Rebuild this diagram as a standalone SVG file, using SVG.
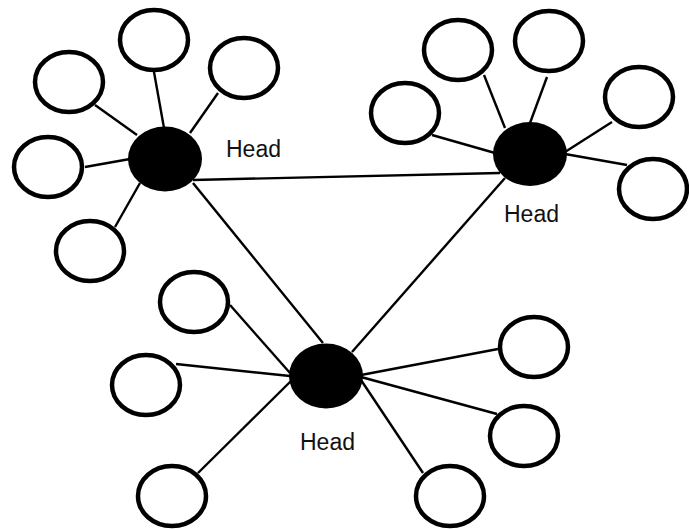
<svg xmlns="http://www.w3.org/2000/svg" width="689" height="529" viewBox="0 0 689 529">
<style>
.sat{fill:#fff;stroke:#000;stroke-width:4.5}
.head{fill:#000}
.ln{stroke:#000;stroke-width:2.4;fill:none}
.lbl{font-family:"Liberation Sans",Arial,sans-serif;font-size:23px;fill:#111}
</style>
<rect width="689" height="529" fill="#fff"/>
<g id="connectors">
<line class="ln" x1="193" y1="180" x2="500" y2="173"/>
<line class="ln" x1="505" y1="178" x2="352" y2="352"/>
<line class="ln" x1="193" y1="183" x2="323" y2="343"/>
<line class="ln" x1="154" y1="72" x2="164" y2="128"/>
<line class="ln" x1="95" y1="105" x2="137" y2="135"/>
<line class="ln" x1="218" y1="93" x2="190" y2="133"/>
<line class="ln" x1="85" y1="167" x2="130" y2="159"/>
<line class="ln" x1="115" y1="227" x2="140" y2="183"/>
<line class="ln" x1="484" y1="75" x2="505" y2="128"/>
<line class="ln" x1="547" y1="77" x2="530" y2="123"/>
<line class="ln" x1="432" y1="135" x2="495" y2="153"/>
<line class="ln" x1="612" y1="122" x2="565" y2="152"/>
<line class="ln" x1="627" y1="165" x2="565" y2="154"/>
<line class="ln" x1="230" y1="305" x2="290" y2="373"/>
<line class="ln" x1="176" y1="364" x2="290" y2="376"/>
<line class="ln" x1="198" y1="473" x2="292" y2="380"/>
<line class="ln" x1="498" y1="349" x2="361" y2="375"/>
<line class="ln" x1="497" y1="414" x2="361" y2="377"/>
<line class="ln" x1="423" y1="473" x2="361" y2="380"/>
</g>
<g id="head1"><ellipse class="head" cx="165" cy="159" rx="37" ry="32.5"/><text class="lbl" x="226" y="157">Head</text></g>
<g id="head2"><ellipse class="head" cx="530" cy="154" rx="37" ry="32"/><text class="lbl" x="504" y="222">Head</text></g>
<g id="head3"><ellipse class="head" cx="326" cy="376" rx="37" ry="32.5"/><text class="lbl" x="300" y="450">Head</text></g>
<g id="n1a"><ellipse class="sat" cx="154" cy="40" rx="34" ry="30"/></g>
<g id="n1b"><ellipse class="sat" cx="69" cy="82" rx="34" ry="30"/></g>
<g id="n1c"><ellipse class="sat" cx="244" cy="68" rx="34" ry="30"/></g>
<g id="n1d"><ellipse class="sat" cx="48" cy="167" rx="34" ry="30"/></g>
<g id="n1e"><ellipse class="sat" cx="90" cy="251" rx="34" ry="30"/></g>
<g id="n2a"><ellipse class="sat" cx="458" cy="50" rx="34" ry="30"/></g>
<g id="n2b"><ellipse class="sat" cx="549" cy="41" rx="34" ry="30"/></g>
<g id="n2c"><ellipse class="sat" cx="405" cy="113" rx="34" ry="30"/></g>
<g id="n2d"><ellipse class="sat" cx="639" cy="97" rx="34" ry="30"/></g>
<g id="n2e"><ellipse class="sat" cx="653" cy="189" rx="34" ry="30"/></g>
<g id="n3a"><ellipse class="sat" cx="194" cy="302" rx="34" ry="30"/></g>
<g id="n3b"><ellipse class="sat" cx="146" cy="385" rx="34" ry="30"/></g>
<g id="n3c"><ellipse class="sat" cx="172" cy="496" rx="34" ry="30"/></g>
<g id="n3d"><ellipse class="sat" cx="534" cy="347" rx="34" ry="30"/></g>
<g id="n3e"><ellipse class="sat" cx="524" cy="436" rx="34" ry="30"/></g>
<g id="n3f"><ellipse class="sat" cx="450" cy="496" rx="34" ry="30"/></g>
</svg>
